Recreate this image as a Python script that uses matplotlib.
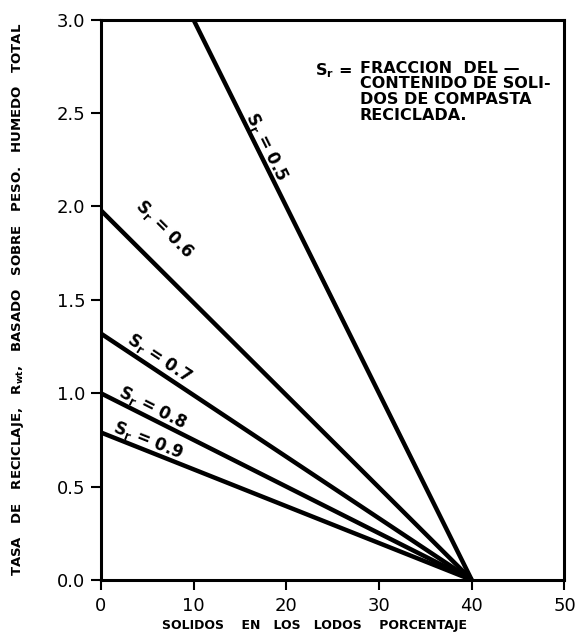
import numpy as np
import matplotlib
matplotlib.use('Agg')
import matplotlib.pyplot as plt

# Sr curves: recycle rate at 0 % solids, all lines end at 40 % solids
sr_values = [0.5, 0.6, 0.7, 0.8, 0.9]
r_at_zero = [4.0, 1.98, 1.32, 1.0, 0.79]
x_end = 40.0

# label anchor positions (data coords)
label_x = [17.9, 6.9, 6.3, 5.6, 5.1]
label_y = [2.32, 1.88, 1.19, 0.92, 0.745]

x_ticks = [0, 10, 20, 30, 40, 50]
y_ticks = [0.0, 0.5, 1.0, 1.5, 2.0, 2.5, 3.0]

plt.rcParams['font.family'] = ['DejaVu Sans']

fig = plt.figure(figsize=(5.76, 6.38), dpi=100)
ax = fig.add_axes([0.175, 0.091, 0.805, 0.878])
ax.set_xlim(0, 50)
ax.set_ylim(0, 3.0)

for sr, r0 in zip(sr_values, r_at_zero):
    ax.plot([0, x_end], [r0, 0], color='black', lw=3.2, solid_capstyle='butt')

fig.canvas.draw()
for sr, r0, lx, ly in zip(sr_values, r_at_zero, label_x, label_y):
    p1 = ax.transData.transform((0, r0))
    p2 = ax.transData.transform((x_end, 0))
    ang = np.degrees(np.arctan2(p2[1] - p1[1], p2[0] - p1[0]))
    ax.text(lx, ly, '$\\mathbf{S_r}$ = %.1f' % sr, rotation=ang, rotation_mode='anchor',
            ha='center', va='center', fontsize=12, fontweight='bold')

ax.text(23.1, 2.78, '$\\mathbf{S_r}$ =', fontsize=11.5, fontweight='bold', va='top', ha='left')
ax.text(27.9, 2.78, 'FRACCION  DEL —\nCONTENIDO DE SOLI-\nDOS DE COMPASTA\nRECICLADA.',
        fontsize=11.5, fontweight='bold', va='top', ha='left', linespacing=1.05)

ax.set_xticks(x_ticks)
ax.set_yticks(y_ticks)
ax.set_xticklabels([str(v) for v in x_ticks], fontsize=13)
ax.set_yticklabels(['%.1f' % v for v in y_ticks], fontsize=13)
ax.tick_params(axis='y', direction='out', length=7, width=1.5, pad=4)
ax.tick_params(axis='x', direction='out', length=7, width=1.5, pad=5)
for s in ax.spines.values():
    s.set_linewidth(2.2)

ax.set_xlabel('SOLIDOS    EN   LOS   LODOS    PORCENTAJE', fontsize=9,
              fontweight='bold', labelpad=6)
ax.xaxis.set_label_coords(0.46, -0.07)
ax.set_ylabel('TASA   DE   RECICLAJE,   R$_{\\mathbf{wt}}$,   BASADO   SOBRE   PESO.   HUMEDO   TOTAL',
              fontsize=9.5, fontweight='bold', labelpad=22)

fig.savefig('out.png', dpi=100)
